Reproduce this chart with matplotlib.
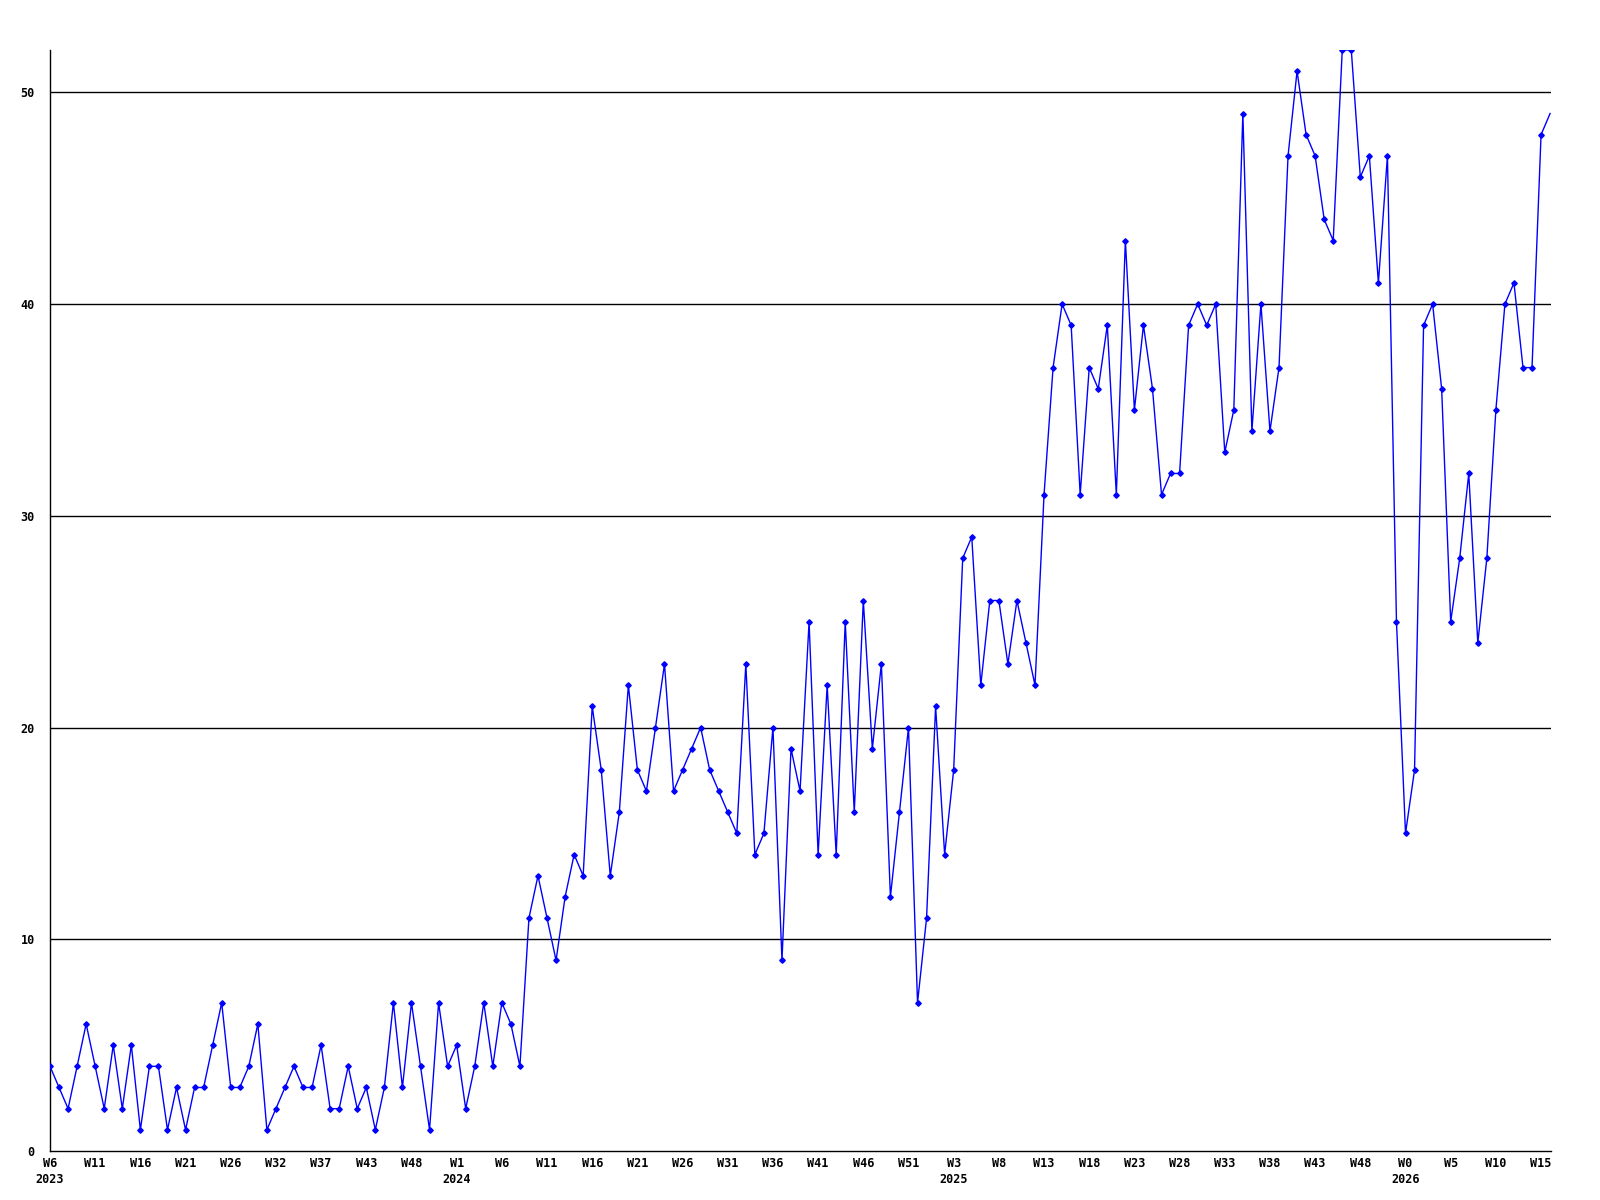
import matplotlib
matplotlib.use('Agg')
import matplotlib.pyplot as plt

# weekly counts, 2023 W6 .. 2026 W16
counts = [
    4, 3, 2, 4, 6, 4, 2, 5, 2, 5, 1, 4, 4, 1, 3, 1, 3, 3, 5, 7,
    3, 3, 4, 6, 1, 2, 3, 4, 3, 3, 5, 2, 2, 4, 2, 3, 1, 3, 7, 3,
    7, 4, 1, 7, 4, 5, 2, 4, 7, 4, 7, 6, 4,
    11, 13, 11, 9, 12, 14, 13, 21, 18, 13, 16, 22, 18, 17, 20, 23,
    17, 18, 19, 20, 18, 17, 16, 15, 23, 14, 15, 20,
    9, 19, 17, 25, 14, 22, 14, 25, 16, 26, 19, 23, 12, 16, 20, 7,
    11, 21, 14, 18, 28, 29, 22, 26, 26, 23, 26, 24,
    22, 31, 37, 40, 39, 31, 37, 36, 39, 31, 43, 35, 39, 36, 31, 32,
    32, 39, 40, 39, 40, 33, 35, 49, 34, 40, 34, 37,
    47, 51, 48, 47, 44, 43, 52, 52, 46, 47, 41, 47,
    25, 15, 18, 39, 40, 36, 25, 28, 32, 24, 28, 35, 40, 41, 37, 37,
    48, 49,
]

# one label every 5 weeks
week_labels = [
    'W6\n2023', 'W11', 'W16', 'W21', 'W26', 'W32', 'W37', 'W43', 'W48',
    'W1\n2024', 'W6', 'W11', 'W16', 'W21', 'W26', 'W31', 'W36', 'W41', 'W46', 'W51',
    'W3\n2025', 'W8', 'W13', 'W18', 'W23', 'W28', 'W33', 'W38', 'W43', 'W48',
    'W0\n2026', 'W5', 'W10', 'W15',
]
y_ticks = [0, 10, 20, 30, 40, 50]

fig = plt.figure(figsize=(16, 12), dpi=100)
ax = fig.add_axes([50 / 1600, 1 - 1151 / 1200, 1501 / 1600, 1101 / 1200])

x = range(len(counts))
ax.plot(x, counts, color='#0000ff', linewidth=1.0, marker='D', markersize=2.8,
        markevery=slice(0, len(counts) - 1), zorder=3)

ax.set_xlim(0, len(counts) - 0.9)
ax.set_ylim(0, 52)

for v in y_ticks[1:]:
    ax.axhline(v, color='black', linewidth=1.0, zorder=1)

ax.set_yticks(y_ticks)
ax.set_yticklabels([str(v) for v in y_ticks])
ax.set_xticks(range(0, 5 * len(week_labels), 5))
ax.set_xticklabels(week_labels)

for lab in ax.get_xticklabels() + ax.get_yticklabels():
    lab.set_fontfamily('DejaVu Sans Mono')
    lab.set_fontweight('bold')
    lab.set_fontsize(8.5)
for lab in ax.get_xticklabels():
    lab.set_verticalalignment('top')
    lab.set_linespacing(1.3)

ax.tick_params(axis='both', length=0)
ax.tick_params(axis='y', pad=11)
ax.tick_params(axis='x', pad=4)

for side in ['top', 'right']:
    ax.spines[side].set_visible(False)
for side in ['left', 'bottom']:
    ax.spines[side].set_color('black')
    ax.spines[side].set_linewidth(1.0)

fig.savefig('out.png', dpi=100)
